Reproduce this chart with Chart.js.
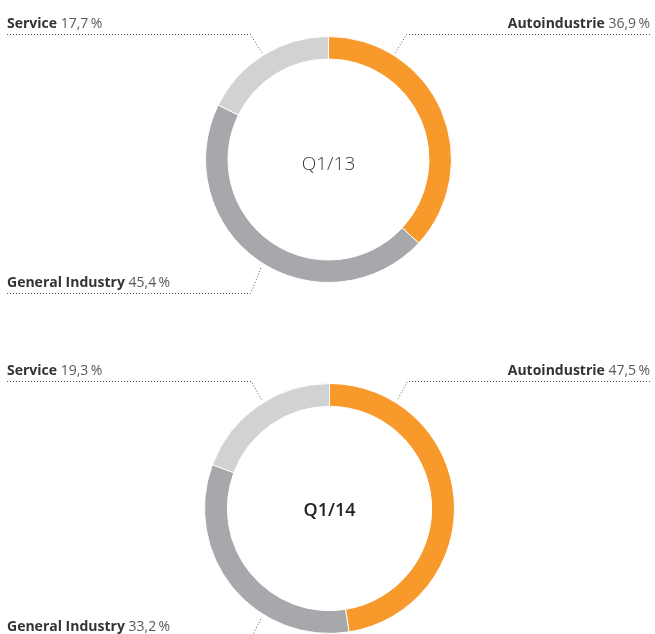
<!DOCTYPE html>
<html>
<head>
<meta charset="utf-8">
<script src="https://cdn.jsdelivr.net/npm/chart.js@4"></script>
<style>
  body { margin: 0; background: #fff; }
  #wrap { position: relative; width: 655px; height: 634px; overflow: hidden; }
  canvas { position: absolute; left: 0; }
  #chartTop { top: 0; }
  #chartBottom { top: 320px; }
</style>
</head>
<body>
<div id="wrap">
  <canvas id="chartTop" width="655" height="320"></canvas>
  <canvas id="chartBottom" width="655" height="314"></canvas>
</div>
<script>
const categories = ["Autoindustrie", "General Industry", "Service"];
const periods = ["Q1/13", "Q1/14"];
const valuesQ113 = [36.9, 45.4, 17.7];
const valuesQ114 = [47.5, 33.2, 19.3];
const colors = ["#f7992b", "#a7a8ab", "#d1d2d4"];

const FONT = '"Open Sans", "Noto Sans", sans-serif';

// where each label sits: x side (+1 right, -1 left), y side (-1 above, +1 below)
const sides = [[1, -1], [-1, 1], [-1, -1]];

function fmt(v) {
  return v.toFixed(1).replace(".", ",") + "\u2009%";
}

const leaders = {
  id: "leaders",
  afterDraw(chart, args, opts) {
    const ctx = chart.ctx;
    const arc = chart.getDatasetMeta(0).data[0];
    const cx = arc.x, cy = arc.y, r = arc.outerRadius;
    const vals = chart.data.datasets[0].data;
    const ang = 32 * Math.PI / 180;

    ctx.save();
    chart.data.labels.forEach((name, i) => {
      const [sx, sy] = sides[i];
      const ex = cx + sx * (r + 3) * Math.sin(ang);
      const ey = cy + sy * (r + 3) * Math.cos(ang);
      const lineY = Math.round(sy < 0 ? cy - r - 3 : cy + r + opts.below) + 0.5;
      const bx = cx + sx * 78;
      const farX = sx < 0 ? 7 : 650;

      ctx.strokeStyle = "#555";
      ctx.lineWidth = 1;
      ctx.setLineDash([1, 2]);
      ctx.beginPath();
      ctx.moveTo(farX, lineY);
      ctx.lineTo(bx, lineY);
      ctx.lineTo(ex, ey);
      ctx.stroke();
      ctx.setLineDash([]);

      // label: bold name + regular value
      const ty = lineY - 7;
      ctx.textBaseline = "alphabetic";
      ctx.font = "bold 14px " + FONT;
      const w1 = ctx.measureText(name + " ").width;
      ctx.font = "14px " + FONT;
      const w2 = ctx.measureText(fmt(vals[i])).width;
      const x0 = sx < 0 ? 7 : 650 - w1 - w2;
      ctx.textAlign = "left";
      ctx.font = "bold 14px " + FONT;
      ctx.fillStyle = "#333";
      ctx.fillText(name, x0, ty);
      ctx.font = "14px " + FONT;
      ctx.fillStyle = "#5a5a5a";
      ctx.fillText(fmt(vals[i]), x0 + w1, ty);
    });

    // period in the middle
    ctx.font = opts.weight + " " + opts.size + "px " + FONT;
    ctx.fillStyle = opts.color;
    ctx.textAlign = "center";
    ctx.textBaseline = "middle";
    ctx.fillText(opts.title, cx, cy + opts.dy);
    ctx.restore();
  }
};

function makeDonut(id, values, pad, opts) {
  return new Chart(document.getElementById(id), {
    type: "doughnut",
    data: {
      labels: categories,
      datasets: [{
        data: values,
        backgroundColor: colors,
        borderColor: "#fff",
        borderWidth: 1,
        hoverOffset: 0
      }]
    },
    options: {
      responsive: false,
      animation: false,
      cutout: "81.7%",
      layout: { padding: pad },
      events: [],
      plugins: {
        legend: { display: false },
        tooltip: { enabled: false },
        leaders: opts
      }
    },
    plugins: [leaders]
  });
}

makeDonut("chartTop", valuesQ113,
  { top: 36, bottom: 37, left: 205, right: 203 },
  { title: periods[0], weight: 300, size: 19, color: "#3a3a3a", dy: 5, below: 10 });

makeDonut("chartBottom", valuesQ114,
  { top: 63, bottom: 0, left: 204, right: 200 },
  { title: periods[1], weight: 600, size: 18, color: "#222", dy: 2, below: 3 });
</script>
</body>
</html>
